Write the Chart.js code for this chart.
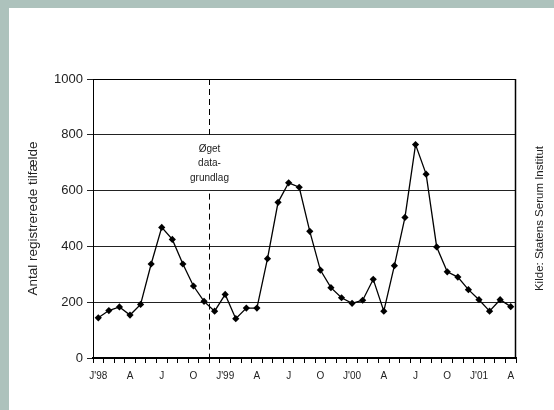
<!DOCTYPE html>
<html lang="da">
<head>
<meta charset="UTF-8">
<title>Antal registrerede tilfælde</title>
<script src="https://cdn.jsdelivr.net/npm/chart.js"></script>
<style>
  html, body { margin: 0; padding: 0; background: #adc2bc; }
  #wrap { position: absolute; left: 9px; top: 8px; width: 545px; height: 402px; background: #fff; }
</style>
</head>
<body>
<div id="wrap"><canvas id="chart" width="545" height="402"></canvas></div>
<script>
// months Jan 1998 - Apr 2001
const months = [
  '1998-01','1998-02','1998-03','1998-04','1998-05','1998-06','1998-07','1998-08','1998-09','1998-10','1998-11','1998-12',
  '1999-01','1999-02','1999-03','1999-04','1999-05','1999-06','1999-07','1999-08','1999-09','1999-10','1999-11','1999-12',
  '2000-01','2000-02','2000-03','2000-04','2000-05','2000-06','2000-07','2000-08','2000-09','2000-10','2000-11','2000-12',
  '2001-01','2001-02','2001-03','2001-04'
];
// shown on every third month
const tickLabels = ["J'98",'A','J','O',"J'99",'A','J','O',"J'00",'A','J','O',"J'01",'A'];
const cases = [
  144, 170, 183, 154, 192, 337, 468, 425, 337, 258, 203, 168,
  228, 141, 179, 179, 356, 558, 628, 612, 454, 315, 252, 216,
  196, 207, 282, 168, 331, 504, 765, 659, 398, 309, 290, 245,
  209, 168, 209, 184
];
const yTicks = [0, 200, 400, 600, 800, 1000];
const noteLines = ['Øget', 'data-', 'grundlag'];
const source = 'Kilde: Statens Serum Institut';

const FONT = 'Arial, "Liberation Sans", sans-serif';

const extras = {
  id: 'extras',
  afterDatasetsDraw(chart) {
    const { ctx, chartArea: a, scales: { x, y } } = chart;
    ctx.save();
    // frame top/right
    ctx.strokeStyle = '#000';
    ctx.lineWidth = 1;
    ctx.beginPath();
    ctx.moveTo(a.left, a.top + 0.5);
    ctx.lineTo(a.right - 0.5, a.top + 0.5);
    ctx.stroke();
    ctx.lineWidth = 1.5;
    ctx.beginPath();
    ctx.moveTo(a.right - 0.5, a.top);
    ctx.lineTo(a.right - 0.5, a.bottom);
    ctx.stroke();

    // dashed line before Dec 1998
    const lx = Math.round((x.getPixelForValue(10) + x.getPixelForValue(11)) / 2) + 0.5;
    ctx.lineWidth = 1;
    ctx.setLineDash([6, 4]);
    ctx.beginPath();
    ctx.moveTo(lx, a.top);
    ctx.lineTo(lx, y.getPixelForValue(800));
    ctx.moveTo(lx, y.getPixelForValue(600) + 3);
    ctx.lineTo(lx, a.bottom);
    ctx.stroke();
    ctx.setLineDash([]);

    ctx.fillStyle = '#222';
    ctx.font = '10px ' + FONT;
    ctx.textAlign = 'center';
    ctx.textBaseline = 'middle';
    noteLines.forEach((t, i) => ctx.fillText(t, lx, 141 + i * 14.5));

    // source text
    ctx.translate(531, (a.top + a.bottom) / 2);
    ctx.rotate(-Math.PI / 2);
    ctx.font = '11.5px ' + FONT;
    ctx.fillText(source, 0, 0);
    ctx.restore();
  }
};

new Chart(document.getElementById('chart'), {
  type: 'line',
  data: {
    labels: months,
    datasets: [{
      data: cases,
      borderColor: '#000',
      borderWidth: 1.3,
      pointStyle: 'rectRot',
      pointRadius: 3.6,
      pointBackgroundColor: '#000',
      pointBorderColor: '#000',
      pointBorderWidth: 0,
      tension: 0
    }]
  },
  options: {
    responsive: false,
    animation: false,
    layout: { padding: { top: 71, right: 38, left: 0, bottom: 0 } },
    plugins: { legend: { display: false }, tooltip: { enabled: false } },
    scales: {
      x: {
        type: 'category',
        offset: true,
        afterFit(s) { s.height = 52; },
        grid: { offset: true, drawOnChartArea: false, color: '#000', tickLength: 5 },
        border: { color: '#000', width: 2 },
        ticks: {
          autoSkip: false,
          maxRotation: 0,
          padding: 7,
          color: '#222',
          font: { family: FONT, size: 10 },
          callback: (v, i) => (i % 3 === 0 ? tickLabels[i / 3] : '')
        }
      },
      y: {
        min: 0,
        max: 1000,
        afterFit(s) { s.width = 84; },
        afterBuildTicks(s) { s.ticks = yTicks.map(v => ({ value: v })); },
        grid: { color: '#222', tickLength: 6 },
        border: { color: '#000', width: 1 },
        ticks: {
          padding: 4,
          color: '#222',
          font: { family: FONT, size: 13 },
          callback: v => String(v)
        },
        title: {
          display: true,
          text: 'Antal registrerede tilfælde',
          color: '#222',
          font: { family: FONT, size: 13.5 },
          padding: { top: 16, bottom: 0 }
        }
      }
    }
  },
  plugins: [extras]
});
</script>
</body>
</html>
